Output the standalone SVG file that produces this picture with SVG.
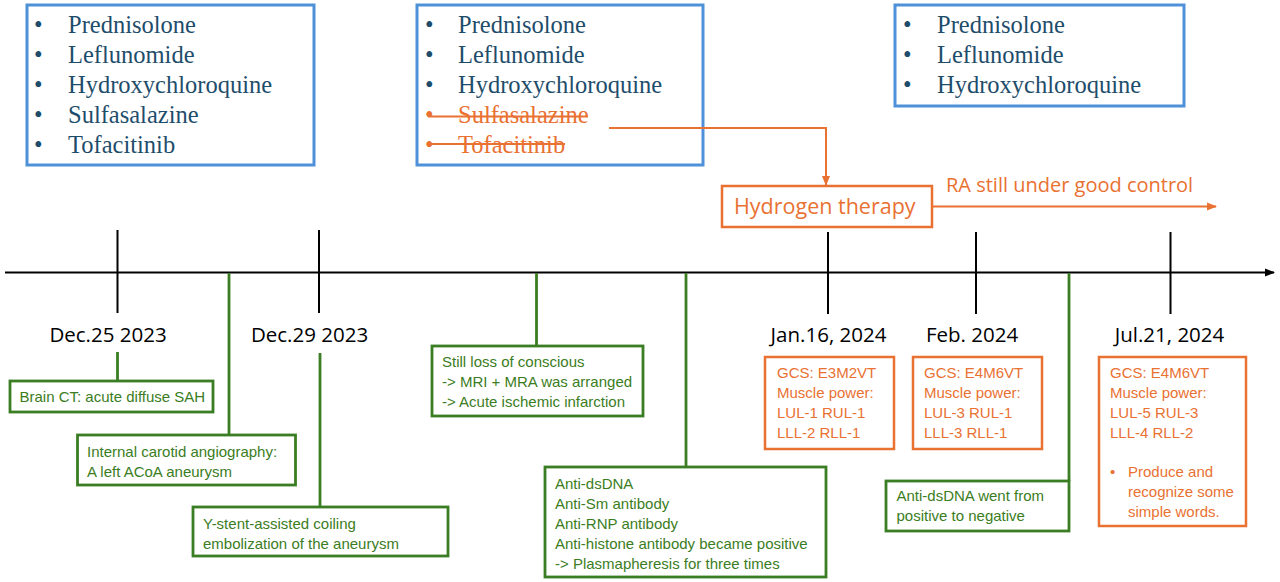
<svg xmlns="http://www.w3.org/2000/svg" width="1280" height="582" viewBox="0 0 1280 582">
<defs>
<style>
.bbox{fill:#fff;stroke:#4E91D8;stroke-width:3}
.drug{font-family:"Liberation Serif","Times New Roman",serif;font-size:24.5px;fill:#1E4D6B}
.drugx{font-family:"Liberation Serif","Times New Roman",serif;font-size:24.5px;fill:#E97132}
.gbox{fill:#fff;stroke:#3B7D23;stroke-width:2.8}
.obox{fill:#fff;stroke:#E97132;stroke-width:2.5}
.gt{font-family:"Liberation Sans",Arial,sans-serif;font-size:15px;fill:#3B7D23}
.ot{font-family:"Liberation Sans",Arial,sans-serif;font-size:15px;fill:#E97132}
.date{font-family:"Open Sans","Noto Sans",sans-serif;font-size:20.5px;fill:#000}
.tick{stroke:#000;stroke-width:2;fill:none}
.gl{stroke:#3B7D23;stroke-width:2.8;fill:none}
.ol{stroke:#E97132;stroke-width:2;fill:none}
</style>
<marker id="ah" markerWidth="10" markerHeight="10" refX="9" refY="5" orient="auto" markerUnits="userSpaceOnUse"><path d="M0,1 L10,5 L0,9 Z" fill="#000"/></marker>
<marker id="oa" markerWidth="10" markerHeight="10" refX="9" refY="5" orient="auto" markerUnits="userSpaceOnUse"><path d="M0,1 L10,5 L0,9 Z" fill="#E97132"/></marker>
</defs>
<rect width="1280" height="582" fill="#fff"/>

<g id="meds1">
<rect class="bbox" x="27" y="5" width="287" height="160"/>
<text class="drug"><tspan x="34" y="33">•</tspan><tspan x="68" y="33">Prednisolone</tspan><tspan x="34" y="63">•</tspan><tspan x="68" y="63">Leflunomide</tspan><tspan x="34" y="93">•</tspan><tspan x="68" y="93">Hydroxychloroquine</tspan><tspan x="34" y="123">•</tspan><tspan x="68" y="123">Sulfasalazine</tspan><tspan x="34" y="153">•</tspan><tspan x="68" y="153">Tofacitinib</tspan></text>
</g>

<g id="meds2">
<rect class="bbox" x="417" y="5" width="286" height="160"/>
<text class="drug"><tspan x="425" y="33">•</tspan><tspan x="458" y="33">Prednisolone</tspan><tspan x="425" y="63">•</tspan><tspan x="458" y="63">Leflunomide</tspan><tspan x="425" y="93">•</tspan><tspan x="458" y="93">Hydroxychloroquine</tspan></text>
<text class="drugx"><tspan x="425" y="123">•</tspan><tspan x="458" y="123">Sulfasalazine</tspan><tspan x="425" y="153">•</tspan><tspan x="458" y="153">Tofacitinib</tspan></text>
<line class="ol" x1="428" y1="116.5" x2="588" y2="116.5"/>
<line class="ol" x1="428" y1="144" x2="565" y2="144"/>
</g>

<g id="meds3">
<rect class="bbox" x="895" y="5" width="289" height="101"/>
<text class="drug"><tspan x="903" y="33">•</tspan><tspan x="937" y="33">Prednisolone</tspan><tspan x="903" y="63">•</tspan><tspan x="937" y="63">Leflunomide</tspan><tspan x="903" y="93">•</tspan><tspan x="937" y="93">Hydroxychloroquine</tspan></text>
</g>

<g id="hydrogen">
<rect class="obox" x="722" y="186" width="210" height="41"/>
<text x="734" y="214" font-family="'Open Sans','Noto Sans',sans-serif" font-size="21.5" fill="#E97132">Hydrogen therapy</text>
<text x="946" y="192" font-family="'Open Sans','Noto Sans',sans-serif" font-size="20" fill="#E97132">RA still under good control</text>
</g>

<g id="connectors">
<polyline class="ol" points="609,128 826,128 826,185" marker-end="url(#oa)"/>
<line class="ol" x1="932" y1="206.5" x2="1216" y2="206.5" marker-end="url(#oa)"/>
<line x1="5" y1="272.5" x2="1274" y2="272.5" stroke="#000" stroke-width="2" marker-end="url(#ah)"/>
<line class="tick" x1="117.5" y1="230" x2="117.5" y2="313"/>
<line class="tick" x1="319" y1="230" x2="319" y2="313"/>
<line class="tick" x1="828" y1="232" x2="828" y2="314"/>
<line class="tick" x1="976" y1="232" x2="976" y2="314"/>
<line class="tick" x1="1170.5" y1="232" x2="1170.5" y2="314"/>
<line class="gl" x1="117.5" y1="352" x2="117.5" y2="382"/>
<line class="gl" x1="229" y1="273" x2="229" y2="435"/>
<line class="gl" x1="320" y1="353" x2="320" y2="507"/>
<line class="gl" x1="536.5" y1="273" x2="536.5" y2="346"/>
<line class="gl" x1="686" y1="273" x2="686" y2="467"/>
<line class="gl" x1="1069" y1="273" x2="1069" y2="481"/>
</g>

<g id="dates">
<text class="date" x="108" y="342" text-anchor="middle">Dec.25 2023</text>
<text class="date" x="309.5" y="342" text-anchor="middle">Dec.29 2023</text>
<text class="date" x="828.5" y="342" text-anchor="middle">Jan.16, 2024</text>
<text class="date" x="972" y="342" text-anchor="middle">Feb. 2024</text>
<text class="date" x="1169.5" y="342" text-anchor="middle">Jul.21, 2024</text>
</g>

<g id="brainct">
<rect class="gbox" x="10" y="381" width="203" height="31"/>
<text class="gt" x="19.5" y="402">Brain CT: acute diffuse SAH</text>
</g>

<g id="angiography">
<rect class="gbox" x="77.5" y="435" width="218" height="50"/>
<text class="gt"><tspan x="87" y="457">Internal carotid angiography:</tspan><tspan x="87" y="477">A left ACoA aneurysm</tspan></text>
</g>

<g id="stent">
<rect class="gbox" x="193" y="507" width="255" height="49"/>
<text class="gt"><tspan x="203" y="529">Y-stent-assisted coiling</tspan><tspan x="203" y="549">embolization of the aneurysm</tspan></text>
</g>

<g id="mri">
<rect class="gbox" x="432" y="346" width="211" height="70"/>
<text class="gt"><tspan x="442" y="367">Still loss of conscious</tspan><tspan x="442" y="387">-&gt; MRI + MRA was arranged</tspan><tspan x="442" y="407">-&gt; Acute ischemic infarction</tspan></text>
</g>

<g id="antibodies">
<rect class="gbox" x="545" y="467" width="281" height="110"/>
<text class="gt"><tspan x="555" y="489">Anti-dsDNA</tspan><tspan x="555" y="509">Anti-Sm antibody</tspan><tspan x="555" y="529">Anti-RNP antibody</tspan><tspan x="555" y="549">Anti-histone antibody became positive</tspan><tspan x="555" y="569">-&gt; Plasmapheresis for three times</tspan></text>
</g>

<g id="dsdna">
<rect class="gbox" x="886" y="481" width="183" height="50"/>
<text class="gt"><tspan x="896.5" y="501">Anti-dsDNA went from</tspan><tspan x="896.5" y="521">positive to negative</tspan></text>
</g>

<g id="jan">
<rect class="obox" x="765" y="357" width="129" height="92"/>
<text class="ot"><tspan x="777" y="378">GCS: E3M2VT</tspan><tspan x="777" y="398">Muscle power:</tspan><tspan x="777" y="418">LUL-1 RUL-1</tspan><tspan x="777" y="438">LLL-2 RLL-1</tspan></text>
</g>

<g id="feb">
<rect class="obox" x="913" y="357" width="129" height="92"/>
<text class="ot"><tspan x="924" y="378">GCS: E4M6VT</tspan><tspan x="924" y="398">Muscle power:</tspan><tspan x="924" y="418">LUL-3 RUL-1</tspan><tspan x="924" y="438">LLL-3 RLL-1</tspan></text>
</g>

<g id="jul">
<rect class="obox" x="1099" y="357" width="147" height="169"/>
<text class="ot"><tspan x="1110" y="378">GCS: E4M6VT</tspan><tspan x="1110" y="398">Muscle power:</tspan><tspan x="1110" y="418">LUL-5 RUL-3</tspan><tspan x="1110" y="438">LLL-4 RLL-2</tspan><tspan x="1110" y="477">•</tspan><tspan x="1128" y="477">Produce and</tspan><tspan x="1128" y="497">recognize some</tspan><tspan x="1128" y="517">simple words.</tspan></text>
</g>
</svg>
